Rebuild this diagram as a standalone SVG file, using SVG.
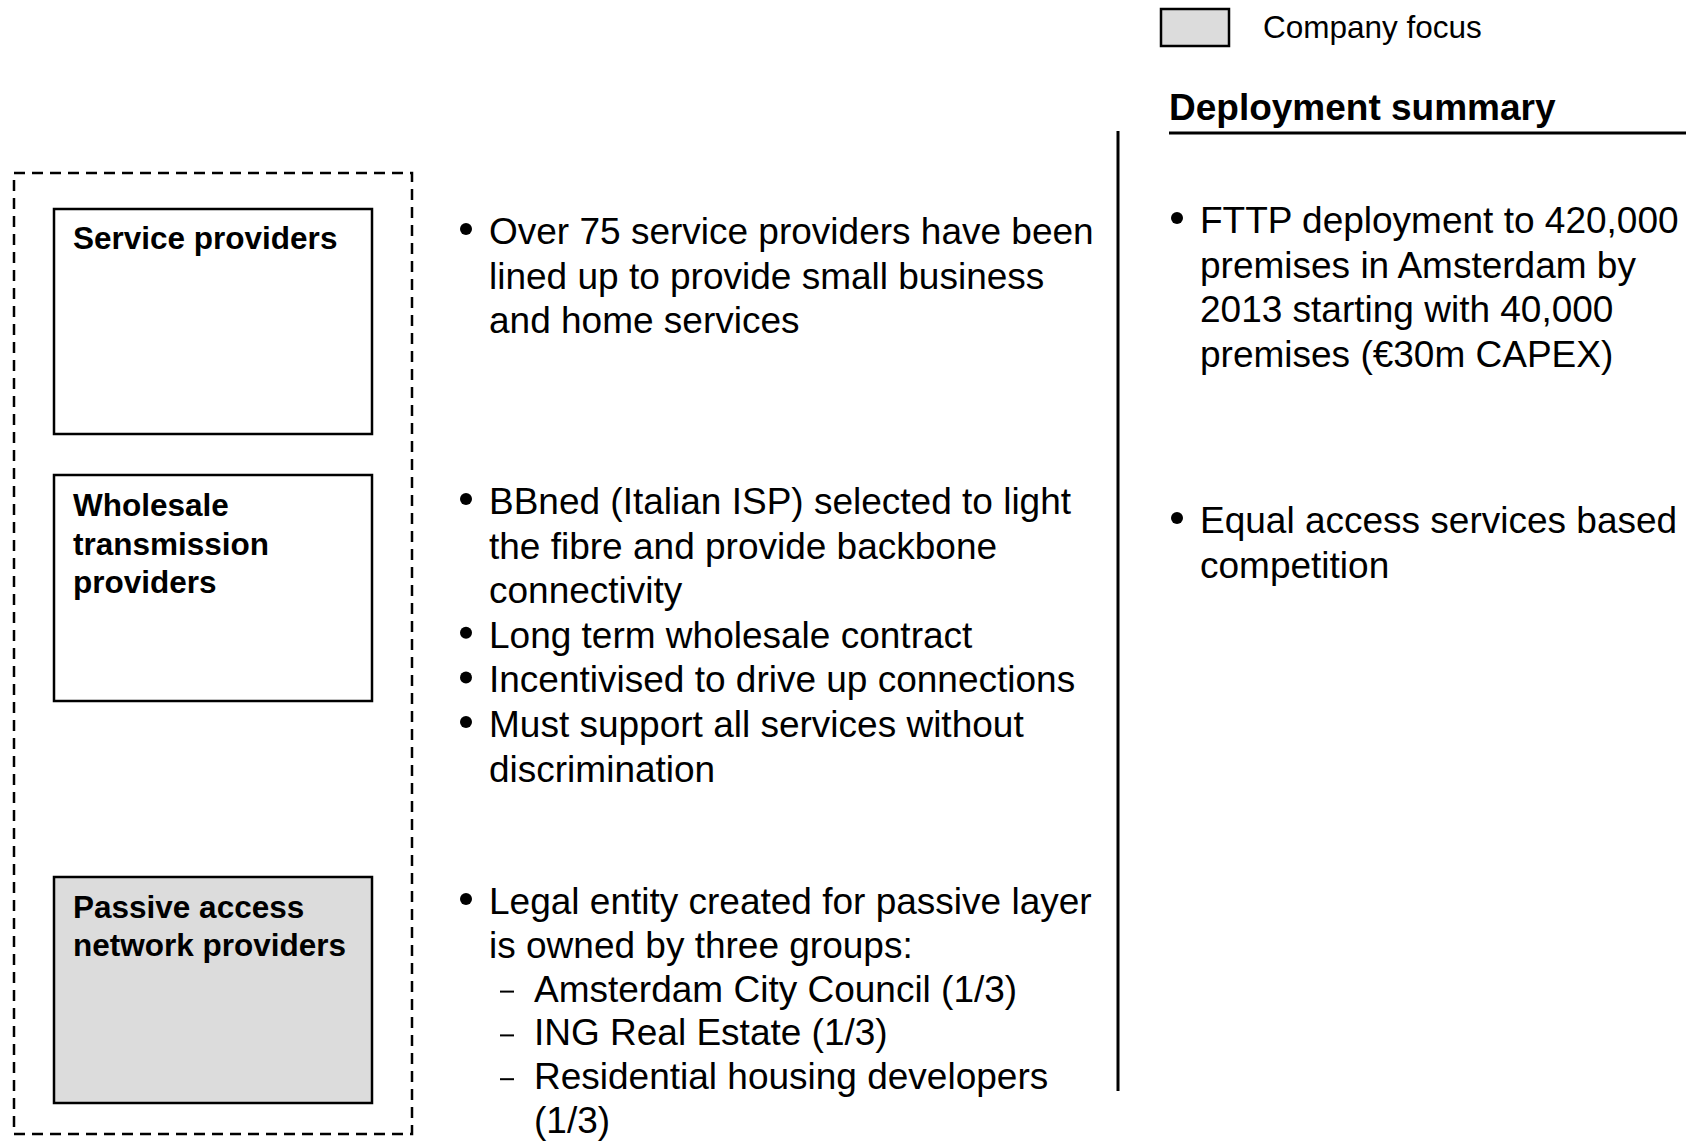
<svg xmlns="http://www.w3.org/2000/svg" width="1686" height="1141" viewBox="0 0 1686 1141">
  <style>
    .box { fill: #ffffff; stroke: #000000; stroke-width: 2.5; }
    .focus { fill: #dcdcdc; }
    .frame { fill: none; stroke: #000000; stroke-width: 2.5; stroke-dasharray: 11 7; }
    .label { font-family: "Liberation Sans", Arial, sans-serif; font-weight: bold; font-size: 31.5px; fill: #000000; }
    .body { font-family: "Liberation Sans", Arial, sans-serif; font-size: 37px; fill: #000000; }
    .legend { font-family: "Liberation Sans", Arial, sans-serif; font-size: 31.5px; fill: #000000; }
    .title { font-family: "Liberation Sans", Arial, sans-serif; font-weight: bold; font-size: 37px; fill: #000000; }
    .bullet { fill: #000000; }
    .dash { stroke: #000000; stroke-width: 2; }
    .rule { stroke: #000000; stroke-width: 3; }
  </style>
  <defs>
    <circle id="dot" class="bullet" r="6"/>
  </defs>

  <!-- legend -->
  <g id="legend">
    <rect class="box focus" x="1161" y="9" width="68" height="37"/>
    <text class="legend" x="1263" y="38">Company focus</text>
  </g>

  <!-- value-chain layers inside the dashed frame -->
  <g id="layers">
    <rect class="frame" x="14" y="173" width="398" height="961"/>
  </g>

  <g id="service-providers">
    <rect class="box" x="54" y="209" width="318" height="225"/>
    <text class="label" x="73" y="249">Service providers</text>
  </g>

  <g id="wholesale-providers">
    <rect class="box" x="54" y="475" width="318" height="226"/>
    <text class="label" x="73" y="516">Wholesale</text>
    <text class="label" x="73" y="554.5">transmission</text>
    <text class="label" x="73" y="593">providers</text>
  </g>

  <g id="passive-providers">
    <rect class="box focus" x="54" y="877" width="318" height="226"/>
    <text class="label" x="73" y="918">Passive access</text>
    <text class="label" x="73" y="956">network providers</text>
  </g>

  <!-- descriptions of each layer -->
  <g id="service-notes">
    <use href="#dot" x="466" y="229"/>
    <text class="body" x="489" y="244">Over 75 service providers have been</text>
    <text class="body" x="489" y="288.5">lined up to provide small business</text>
    <text class="body" x="489" y="333">and home services</text>
  </g>

  <g id="wholesale-notes">
    <use href="#dot" x="466" y="499"/>
    <text class="body" x="489" y="514">BBned (Italian ISP) selected to light</text>
    <text class="body" x="489" y="558.6">the fibre and provide backbone</text>
    <text class="body" x="489" y="603.2">connectivity</text>
    <use href="#dot" x="466" y="632.8"/>
    <text class="body" x="489" y="647.8">Long term wholesale contract</text>
    <use href="#dot" x="466" y="677.4"/>
    <text class="body" x="489" y="692.4">Incentivised to drive up connections</text>
    <use href="#dot" x="466" y="722"/>
    <text class="body" x="489" y="737">Must support all services without</text>
    <text class="body" x="489" y="781.6">discrimination</text>
  </g>

  <g id="passive-notes">
    <use href="#dot" x="466" y="899"/>
    <text class="body" x="489" y="914">Legal entity created for passive layer</text>
    <text class="body" x="489" y="957.8">is owned by three groups:</text>
    <line class="dash" x1="500" y1="991.6" x2="514" y2="991.6"/>
    <text class="body" x="534" y="1001.6">Amsterdam City Council (1/3)</text>
    <line class="dash" x1="500" y1="1035.4" x2="514" y2="1035.4"/>
    <text class="body" x="534" y="1045.4">ING Real Estate (1/3)</text>
    <line class="dash" x1="500" y1="1079.2" x2="514" y2="1079.2"/>
    <text class="body" x="534" y="1089.2">Residential housing developers</text>
    <text class="body" x="534" y="1132.5">(1/3)</text>
  </g>

  <!-- column divider and summary heading -->
  <g id="connectors">
    <line class="rule" x1="1118" y1="131" x2="1118" y2="1091"/>
    <line class="rule" x1="1169" y1="133" x2="1686" y2="133"/>
  </g>

  <g id="summary">
    <text class="title" x="1169" y="120">Deployment summary</text>
    <use href="#dot" x="1177" y="218"/>
    <text class="body" x="1200" y="233">FTTP deployment to 420,000</text>
    <text class="body" x="1200" y="277.6">premises in Amsterdam by</text>
    <text class="body" x="1200" y="322.2">2013 starting with 40,000</text>
    <text class="body" x="1200" y="366.8">premises (€30m CAPEX)</text>
    <use href="#dot" x="1177" y="518"/>
    <text class="body" x="1200" y="533">Equal access services based</text>
    <text class="body" x="1200" y="577.6">competition</text>
  </g>
</svg>
